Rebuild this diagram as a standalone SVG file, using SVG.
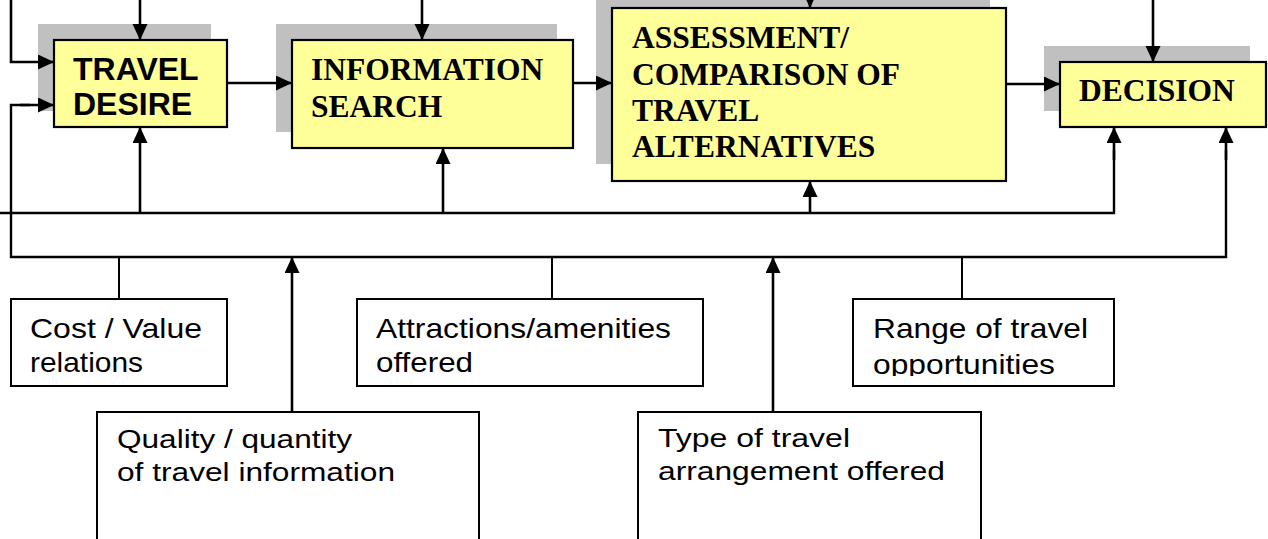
<svg xmlns="http://www.w3.org/2000/svg" width="1268" height="539" viewBox="0 0 1268 539">
  <style>
    .shadow { fill: #C0C0C0; stroke: none; }
    .stage { fill: #FFFF99; stroke: #000; stroke-width: 2.2; }
    .factor { fill: #FFFFFF; stroke: #000; stroke-width: 2; }
    .sans-b { font-family: "Liberation Sans", Arial, sans-serif; font-weight: bold; font-size: 32px; fill: #000; }
    .serif-b { font-family: "Liberation Serif", "Times New Roman", serif; font-weight: bold; font-size: 31.5px; fill: #000; }
    .label { font-family: "Liberation Sans", Arial, sans-serif; font-size: 28px; fill: #000; }
    .label2 { font-family: "Liberation Sans", Arial, sans-serif; font-size: 26px; fill: #000; }
    .wire { fill: none; stroke: #000; stroke-width: 2; }
    .bus { fill: none; stroke: #000; stroke-width: 2.4; stroke-linejoin: miter; }
    .feed { fill: none; stroke: #000; stroke-width: 2.6; marker-end: url(#head); }
  </style>
  <defs>
    <marker id="head" markerUnits="userSpaceOnUse" markerWidth="16" markerHeight="16" refX="16" refY="7.5" orient="auto">
      <path d="M0,0 L16,7.5 L0,15 Z" fill="#000"/>
    </marker>
    <clipPath id="clipCost"><rect x="11" y="299" width="216" height="77"/></clipPath>
    <clipPath id="clipAttr"><rect x="357" y="299" width="346" height="77"/></clipPath>
    <clipPath id="clipRange"><rect x="853" y="299" width="261" height="77"/></clipPath>
  </defs>

  <!-- stage shadows -->
  <g id="shadows">
    <rect class="shadow" x="38" y="24" width="173" height="87"/>
    <rect class="shadow" x="276" y="24" width="281" height="108"/>
    <rect class="shadow" x="596" y="-8" width="394" height="172"/>
    <rect class="shadow" x="1044" y="46" width="206" height="65"/>
  </g>

  <!-- connectors -->
  <g id="connectors">
    <!-- inputs from above -->
    <line class="feed" x1="140" y1="0" x2="140" y2="40"/>
    <line class="feed" x1="422" y1="0" x2="422" y2="40"/>
    <line class="feed" x1="810" y1="-10" x2="810" y2="8"/>
    <line class="feed" x1="1153" y1="0" x2="1153" y2="62"/>
    <polyline class="feed" points="11,0 11,62 54,62"/>

    <!-- stage to stage -->
    <line class="feed" x1="227" y1="83" x2="292" y2="83"/>
    <line class="feed" x1="573" y1="83" x2="612" y2="83"/>
    <line class="feed" x1="1006" y1="84" x2="1060" y2="84"/>

    <!-- upper feedback bus -->
    <polyline class="bus" points="0,213 1114,213 1114,150"/>
    <line class="feed" x1="1114" y1="160" x2="1114" y2="127"/>
    <line class="feed" x1="140" y1="213" x2="140" y2="127"/>
    <line class="feed" x1="443" y1="213" x2="443" y2="148"/>
    <line class="feed" x1="810" y1="213" x2="810" y2="181"/>

    <!-- lower influence bus -->
    <polyline class="bus" points="30,105 11,105 11,257 1226,257 1226,150"/>
    <line class="feed" x1="20" y1="105" x2="54" y2="105"/>
    <line class="feed" x1="1226" y1="160" x2="1226" y2="127"/>
    <line class="wire" x1="119" y1="257" x2="119" y2="299"/>
    <line class="wire" x1="552" y1="257" x2="552" y2="299"/>
    <line class="wire" x1="962" y1="257" x2="962" y2="299"/>
    <line class="feed" x1="292" y1="412" x2="292" y2="257"/>
    <line class="feed" x1="773" y1="412" x2="773" y2="257"/>
  </g>

  <!-- decision stages -->
  <g id="travel-desire">
    <rect class="stage" x="54" y="40" width="173" height="87"/>
    <text class="sans-b" x="73" y="80">TRAVEL</text>
    <text class="sans-b" x="73" y="115">DESIRE</text>
  </g>
  <g id="information-search">
    <rect class="stage" x="292" y="40" width="281" height="108"/>
    <text class="serif-b" x="311" y="80">INFORMATION</text>
    <text class="serif-b" x="311" y="117">SEARCH</text>
  </g>
  <g id="assessment">
    <rect class="stage" x="612" y="8" width="394" height="173"/>
    <text class="serif-b" x="632" y="48">ASSESSMENT/</text>
    <text class="serif-b" x="632" y="85">COMPARISON OF</text>
    <text class="serif-b" x="632" y="121">TRAVEL</text>
    <text class="serif-b" x="632" y="157">ALTERNATIVES</text>
  </g>
  <g id="decision">
    <rect class="stage" x="1060" y="62" width="206" height="65"/>
    <text class="serif-b" x="1079" y="101">DECISION</text>
  </g>

  <!-- influencing factors -->
  <g id="cost-value">
    <rect class="factor" x="11" y="299" width="216" height="87"/>
    <g clip-path="url(#clipCost)">
      <text class="label" x="30" y="338" textLength="172" lengthAdjust="spacingAndGlyphs">Cost / Value</text>
      <text class="label" x="30" y="372" textLength="113" lengthAdjust="spacingAndGlyphs">relations</text>
    </g>
  </g>
  <g id="attractions">
    <rect class="factor" x="357" y="299" width="346" height="87"/>
    <g clip-path="url(#clipAttr)">
      <text class="label" x="376" y="338" textLength="295" lengthAdjust="spacingAndGlyphs">Attractions/amenities</text>
      <text class="label" x="376" y="372" textLength="97" lengthAdjust="spacingAndGlyphs">offered</text>
    </g>
  </g>
  <g id="range">
    <rect class="factor" x="853" y="299" width="261" height="87"/>
    <g clip-path="url(#clipRange)">
      <text class="label" x="873" y="338" textLength="215" lengthAdjust="spacingAndGlyphs">Range of travel</text>
      <text class="label" x="873" y="374" textLength="182" lengthAdjust="spacingAndGlyphs">opportunities</text>
    </g>
  </g>
  <g id="quality">
    <rect class="factor" x="97" y="412" width="382" height="140"/>
    <text class="label2" x="117" y="448" textLength="235" lengthAdjust="spacingAndGlyphs">Quality / quantity</text>
    <text class="label2" x="117" y="481" textLength="278" lengthAdjust="spacingAndGlyphs">of travel information</text>
  </g>
  <g id="arrangement">
    <rect class="factor" x="638" y="412" width="343" height="140"/>
    <text class="label2" x="658" y="447" textLength="192" lengthAdjust="spacingAndGlyphs">Type of travel</text>
    <text class="label2" x="658" y="480" textLength="287" lengthAdjust="spacingAndGlyphs">arrangement offered</text>
  </g>
</svg>
